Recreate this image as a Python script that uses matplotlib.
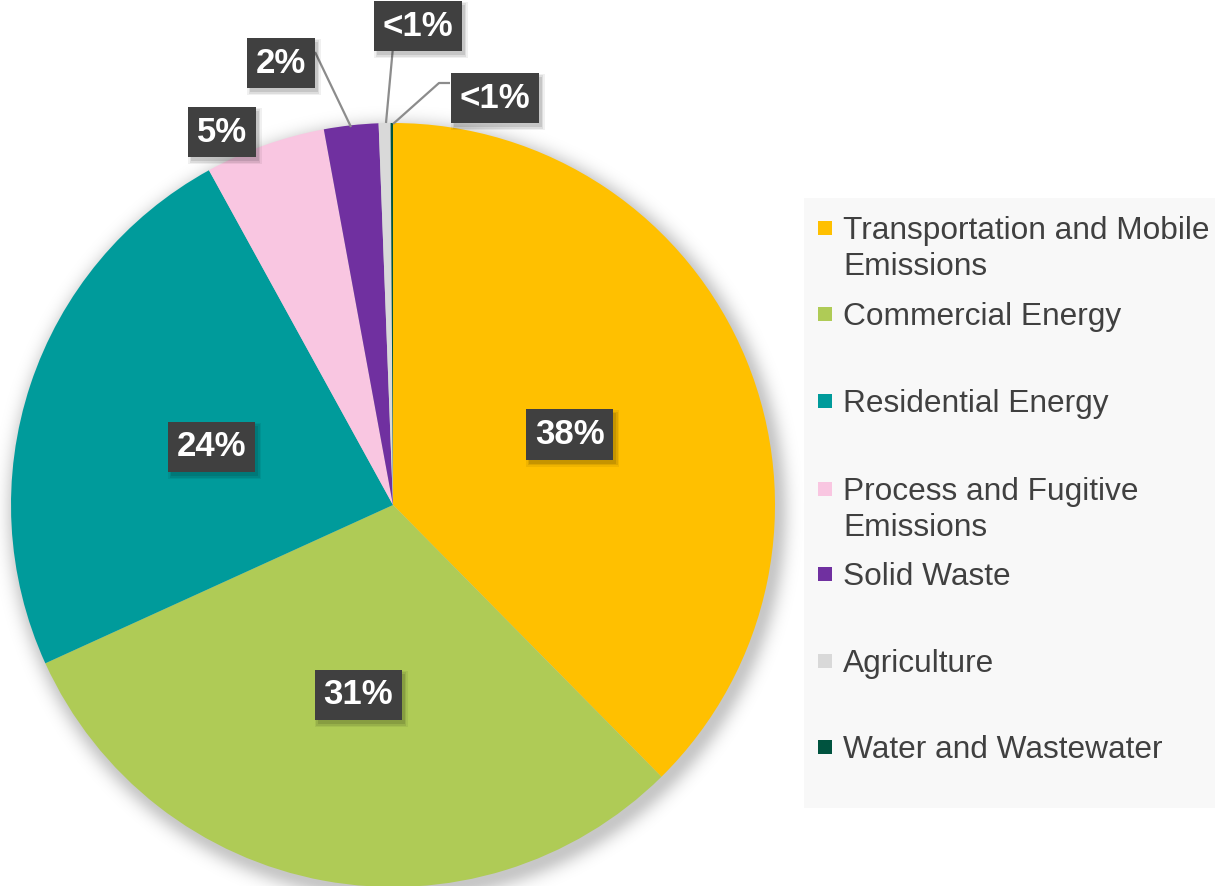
import numpy as np
import matplotlib.pyplot as plt
from matplotlib.patches import Rectangle

plt.rcParams['font.family'] = ['Liberation Sans', 'DejaVu Sans']

# emission shares by sector (percent)
sectors = ['Transportation and Mobile\nEmissions', 'Commercial Energy', 'Residential Energy',
           'Process and Fugitive\nEmissions', 'Solid Waste', 'Agriculture', 'Water and Wastewater']
shares = [37.6, 30.6, 23.8, 5.1, 2.3, 0.5, 0.1]
share_labels = ['38%', '31%', '24%', '5%', '2%', '<1%', '<1%']
colors = ['#FFC000', '#AFCB56', '#009B9B', '#F9C6E1', '#7030A0', '#D9D9D9', '#00533F']

W, H = 1215, 886
cx, cy, R = 393, H - 505, 382

fig = plt.figure(figsize=(W / 100, H / 100), dpi=100)
ax = fig.add_axes([0, 0, 1, 1])
ax.set_xlim(0, W)
ax.set_ylim(0, H)
ax.set_aspect('equal')
ax.axis('off')

# soft drop shadow under the pie
yy, xx = np.mgrid[0:H, 0:W]
d = np.hypot(xx - (cx + 4), (H - yy) - (cy - 6))
fall = np.clip(d - R + 4, 0, None)
alpha = 0.22 * np.exp(-(fall / 14.0) ** 2)
shadow = np.zeros((H, W, 4))
shadow[..., 3] = alpha
ax.imshow(shadow, extent=(0, W, 0, H), origin='upper', zorder=0, interpolation='bilinear')

wedges, _ = ax.pie(shares, colors=colors, startangle=90, counterclock=False,
                   center=(cx, cy), radius=R, wedgeprops=dict(linewidth=0))
for w in wedges:
    w.set_zorder(1)
ax.set_xlim(0, W)
ax.set_ylim(0, H)

box = dict(boxstyle='square,pad=0.25', facecolor='#404040', edgecolor='none')
label_texts = []


def put_label(x, y, s):
    t = ax.text(x, y, s, fontsize=25, fontweight='bold', color='white',
                ha='center', va='center', bbox=box, zorder=5)
    label_texts.append(t)


# large slices: labels at half radius on the mid angle
for w, s in zip(wedges[:3], share_labels[:3]):
    mid = np.deg2rad((w.theta1 + w.theta2) / 2)
    put_label(cx + 0.5 * R * np.cos(mid), cy + 0.5 * R * np.sin(mid) - 2, s)

# small slices: labels outside, with leader lines
outer_pos = [(222, H - 132), (281, H - 63), (418, H - 26), (495, H - 98)]
leaders = [None,
           [(315, 52), (351, 127)],
           [(393, 47), (386, 123)],
           [(450, 83), (439, 83), (393, 124)]]
for (x, y), s, pts in zip(outer_pos, share_labels[3:], leaders):
    if pts:
        px = [p[0] for p in pts]
        py = [H - p[1] for p in pts]
        ax.plot(px, py, color='#8c8c8c', lw=1.6, zorder=3, solid_capstyle='butt')
    put_label(x, y, s)

# drop shadows behind the label boxes
fig.canvas.draw()
for t in label_texts:
    bb = t.get_bbox_patch().get_window_extent()
    for k, a in enumerate([0.10, 0.08, 0.06]):
        g = k * 1.5
        ax.add_patch(Rectangle((bb.x0 + 3 - g, bb.y0 - 4 - g), bb.width + 2 * g, bb.height + 2 * g,
                               facecolor='black', alpha=a, edgecolor='none', zorder=4))

# legend panel
ax.add_patch(Rectangle((804, H - 808), W - 804, 610, facecolor='#F8F8F8',
                       edgecolor='none', zorder=2))
slot_y = [228, 314, 401, 489, 574, 661, 747]
for name, c, sy in zip(sectors, colors, slot_y):
    ax.add_patch(Rectangle((818, H - sy - 7), 14, 14, facecolor=c, edgecolor='none', zorder=3))
    for i, line in enumerate(name.split('\n')):
        ax.text(843, H - sy - 3 - i * 36, line, fontsize=22.8, color='#404040',
                ha='left', va='center', zorder=3)

fig.savefig('out.png', dpi=100)
